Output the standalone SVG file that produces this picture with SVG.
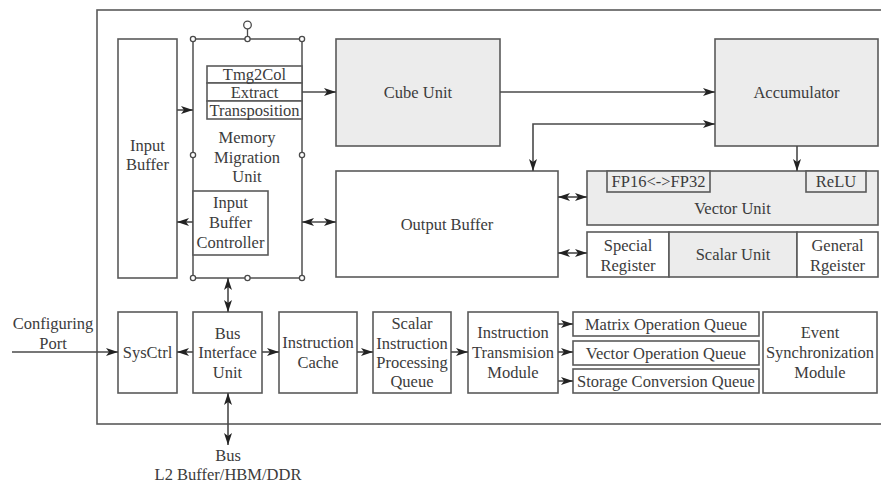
<svg xmlns="http://www.w3.org/2000/svg" width="881" height="483" viewBox="0 0 881 483">
<defs>
<style>
.b{fill:#fff;stroke:#5a5a5a;stroke-width:1.6}
.g{fill:#ececec;stroke:#5a5a5a;stroke-width:1.6}
.t{font-family:"Liberation Serif","Times New Roman",serif;font-size:16.5px;fill:#3c3c3c;text-anchor:middle;dominant-baseline:central}
.c{fill:none;stroke:#4a4a4a;stroke-width:1.6}
.h{fill:#fff;stroke:#4a4a4a;stroke-width:1.3}
</style>
<marker id="ae" viewBox="0 0 12 8" refX="12" refY="4" markerWidth="12" markerHeight="8" markerUnits="userSpaceOnUse" orient="auto-start-reverse">
<path d="M0,0 L12,4 L0,8 L3,4 Z" fill="#222"/>
</marker>
</defs>
<rect width="881" height="483" fill="#fff"/>
<rect id="frame" x="97" y="10" width="800" height="414" fill="none" stroke="#5a5a5a" stroke-width="1.6"/>

<g id="input-buffer"><rect class="b" x="118" y="39" width="59" height="239"/><text class="t" x="147.5" y="145">Input</text><text class="t" x="147.5" y="164">Buffer</text></g>

<g id="memory-migration-unit">
<rect fill="none" stroke="#5a5a5a" stroke-width="1.6" x="193" y="39" width="109" height="239"/>
<line x1="247.5" y1="29" x2="247.5" y2="39" stroke="#4a4a4a" stroke-width="1.3"/>
<circle class="h" cx="247.5" cy="25" r="3.8"/>
<circle class="h" cx="193" cy="39" r="2.6"/><circle class="h" cx="247.5" cy="39" r="2.6"/><circle class="h" cx="302" cy="39" r="2.6"/>
<circle class="h" cx="193" cy="155" r="2.6"/><circle class="h" cx="302" cy="155" r="2.6"/>
<circle class="h" cx="193" cy="278" r="2.6"/><circle class="h" cx="247.5" cy="278" r="2.6"/><circle class="h" cx="302" cy="278" r="2.6"/>
<rect class="b" x="207" y="66" width="95" height="17"/><rect class="b" x="207" y="83" width="95" height="18"/><rect class="b" x="207" y="101" width="95" height="18"/>
<text class="t" x="254.5" y="74.5">Tmg2Col</text><text class="t" x="254.5" y="92">Extract</text><text class="t" x="254.5" y="110">Transposition</text>
<text class="t" x="247" y="137">Memory</text><text class="t" x="247" y="157">Migration</text><text class="t" x="247" y="176">Unit</text>
</g>
<g id="input-buffer-controller"><rect class="b" x="193" y="191" width="75" height="64"/><text class="t" x="230.5" y="202">Input</text><text class="t" x="230.5" y="222">Buffer</text><text class="t" x="230.5" y="242">Controller</text></g>

<g id="cube-unit"><rect class="g" x="336" y="39" width="164" height="107"/><text class="t" x="418" y="92">Cube Unit</text></g>
<g id="accumulator"><rect class="g" x="715" y="39" width="163" height="107"/><text class="t" x="796.5" y="92">Accumulator</text></g>
<g id="output-buffer"><rect class="b" x="336" y="171" width="222" height="106"/><text class="t" x="447" y="224">Output Buffer</text></g>
<g id="vector-unit"><rect class="g" x="587" y="171" width="291" height="54"/>
<rect class="g" x="607" y="171" width="103" height="21"/><text class="t" x="658.5" y="181.5">FP16&lt;-&gt;FP32</text>
<rect class="g" x="806" y="171" width="60" height="21"/><text class="t" x="836" y="181.5">ReLU</text>
<text class="t" x="732.5" y="208">Vector Unit</text></g>
<g id="scalar-unit"><rect class="b" x="587" y="232" width="82" height="45"/><rect class="g" x="669" y="232" width="128" height="45"/><rect class="b" x="797" y="232" width="81" height="45"/>
<text class="t" x="628" y="245">Special</text><text class="t" x="628" y="265">Register</text>
<text class="t" x="733" y="254">Scalar Unit</text>
<text class="t" x="837.5" y="245">General</text><text class="t" x="837.5" y="265">Rgeister</text></g>

<g id="sysctrl"><rect class="b" x="118" y="312" width="59" height="81"/><text class="t" x="147.5" y="352">SysCtrl</text></g>
<g id="bus-interface-unit"><rect class="b" x="193" y="312" width="69" height="81"/><text class="t" x="227.5" y="333">Bus</text><text class="t" x="227.5" y="352">Interface</text><text class="t" x="227.5" y="372">Unit</text></g>
<g id="instruction-cache"><rect class="b" x="279" y="312" width="78" height="81"/><text class="t" x="318" y="342">Instruction</text><text class="t" x="318" y="362">Cache</text></g>
<g id="scalar-instruction-queue"><rect class="b" x="373" y="312" width="78" height="81"/><text class="t" x="412" y="323">Scalar</text><text class="t" x="412" y="343">Instruction</text><text class="t" x="412" y="362">Processing</text><text class="t" x="412" y="381">Queue</text></g>
<g id="instruction-transmision-module"><rect class="b" x="468" y="312" width="90" height="81"/><text class="t" x="513" y="332">Instruction</text><text class="t" x="513" y="352">Transmision</text><text class="t" x="513" y="372">Module</text></g>
<g id="matrix-queue"><rect class="b" x="573" y="312" width="186" height="24"/><text class="t" x="666" y="324">Matrix Operation Queue</text></g>
<g id="vector-queue"><rect class="b" x="573" y="341" width="186" height="24"/><text class="t" x="666" y="353">Vector Operation Queue</text></g>
<g id="storage-queue"><rect class="b" x="573" y="369" width="186" height="24"/><text class="t" x="666" y="381">Storage Conversion Queue</text></g>
<g id="event-sync-module"><rect class="b" x="763" y="312" width="114" height="81"/><text class="t" x="820" y="332">Event</text><text class="t" x="820" y="352">Synchronization</text><text class="t" x="820" y="372">Module</text></g>

<g id="labels">
<text class="t" x="53" y="323">Configuring</text><text class="t" x="53" y="343">Port</text>
<text class="t" x="228" y="455">Bus</text><text class="t" x="228" y="474">L2 Buffer/HBM/DDR</text>
</g>

<g id="connectors">
<line class="c" x1="177" y1="110" x2="193" y2="110" marker-end="url(#ae)"/>
<line class="c" x1="193" y1="222" x2="177" y2="222" marker-end="url(#ae)"/>
<line class="c" x1="302" y1="92" x2="336" y2="92" marker-end="url(#ae)"/>
<line class="c" x1="302" y1="222" x2="336" y2="222" marker-start="url(#ae)" marker-end="url(#ae)"/>
<line class="c" x1="500" y1="92" x2="715" y2="92" marker-end="url(#ae)"/>
<path class="c" d="M533,171 V124 H715" marker-start="url(#ae)" marker-end="url(#ae)"/>
<line class="c" x1="797" y1="146" x2="797" y2="171" marker-end="url(#ae)"/>
<line class="c" x1="558" y1="197" x2="587" y2="197" marker-start="url(#ae)" marker-end="url(#ae)"/>
<line class="c" x1="558" y1="253" x2="587" y2="253" marker-start="url(#ae)" marker-end="url(#ae)"/>
<line class="c" x1="228" y1="278" x2="228" y2="312" marker-start="url(#ae)" marker-end="url(#ae)"/>
<line class="c" x1="12" y1="352" x2="118" y2="352" marker-end="url(#ae)"/>
<line class="c" x1="193" y1="352" x2="177" y2="352" marker-end="url(#ae)"/>
<line class="c" x1="262" y1="352" x2="279" y2="352" marker-end="url(#ae)"/>
<line class="c" x1="357" y1="352" x2="373" y2="352" marker-end="url(#ae)"/>
<line class="c" x1="451" y1="352" x2="468" y2="352" marker-end="url(#ae)"/>
<line class="c" x1="558" y1="324" x2="573" y2="324" marker-end="url(#ae)"/>
<line class="c" x1="558" y1="352" x2="573" y2="352" marker-end="url(#ae)"/>
<line class="c" x1="558" y1="381" x2="573" y2="381" marker-end="url(#ae)"/>
<line class="c" x1="228" y1="393" x2="228" y2="445" marker-start="url(#ae)" marker-end="url(#ae)"/>
</g>
</svg>
